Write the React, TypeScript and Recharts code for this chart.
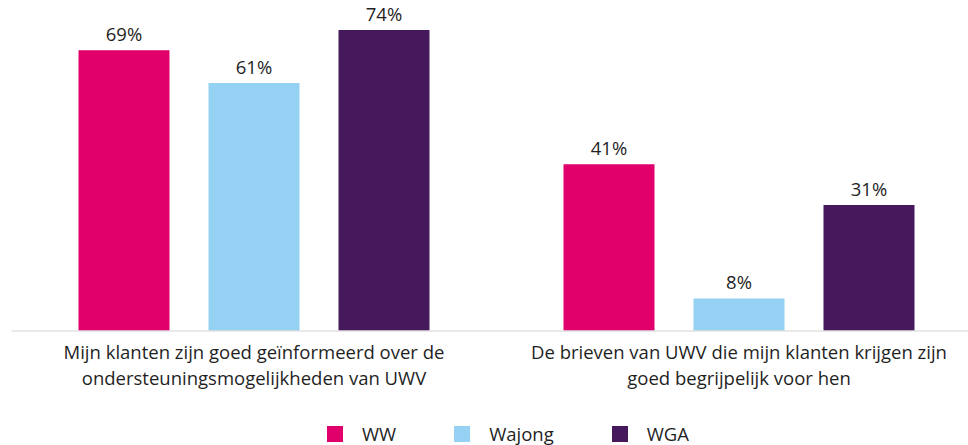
import { BarChart, Bar, XAxis, YAxis, Legend, LabelList } from 'recharts';

// category labels, already split over two lines like the original
const categories = [
  ['Mijn klanten zijn goed geïnformeerd over de', 'ondersteuningsmogelijkheden van UWV'],
  ['De brieven van UWV die mijn klanten krijgen zijn', 'goed begrijpelijk voor hen'],
];
const seriesNames = ['WW', 'Wajong', 'WGA'];
const ww = [69, 41];
const wajong = [61, 8];
const wga = [74, 31];

const colors = ['#e1006b', '#94d1f2', '#46195d'];
const textColor = '#1f1f1f';
const font = '"Open Sans", sans-serif';
const fontSize = 18.5;

const chartData = categories.map((lines, i) => ({
  name: lines.join(' '),
  WW: ww[i],
  Wajong: wajong[i],
  WGA: wga[i],
}));

function CategoryTick({ x, y, index }: any) {
  const lines = categories[index] || [];
  return (
    <text x={x} y={y} textAnchor="middle" fill={textColor} fontSize={fontSize} fontFamily={font}>
      {lines.map((line, i) => (
        <tspan key={i} x={x} dy={i === 0 ? 28 : 26}>
          {line}
        </tspan>
      ))}
    </text>
  );
}

// own legend so the order stays WW, Wajong, WGA
function LegendContent() {
  return (
    <div style={{ height: 54, display: 'flex', alignItems: 'center', paddingLeft: 327, paddingTop: 32, boxSizing: 'border-box' }}>
      {seriesNames.map((s, i) => (
        <div key={s} style={{ display: 'flex', alignItems: 'center', marginRight: 58 }}>
          <span style={{ width: 16, height: 16, background: colors[i], display: 'inline-block', marginRight: 19 }} />
          <span style={{ fontSize, color: textColor, fontFamily: font, lineHeight: '22px' }}>{s}</span>
        </div>
      ))}
    </div>
  );
}

export default function App() {
  return (
    <div style={{ position: 'absolute', left: 0, top: 0, width: 968, height: 445, overflow: 'hidden', background: '#fff', fontFamily: font }}>
      <BarChart
        width={990}
        height={445}
        data={chartData}
        margin={{ top: 30, right: 8.5, left: 11.5, bottom: 0 }}
        barSize={91}
        barGap={39}
      >
        <XAxis
          dataKey="name"
          height={60}
          tickLine={false}
          tickSize={0}
          tickMargin={0}
          axisLine={{ stroke: '#e2e2e2', strokeWidth: 1.5 }}
          tick={<CategoryTick />}
          interval={0}
        />
        <YAxis hide domain={[0, 'dataMax']} />
        <Legend
          verticalAlign="bottom"
          height={54}
          content={<LegendContent />}
          wrapperStyle={{ left: 0, width: 968 }}
        />
        {seriesNames.map((s, i) => (
          <Bar key={s} dataKey={s} name={s} fill={colors[i]} isAnimationActive={false}>
            <LabelList
              dataKey={s}
              position="top"
              offset={9}
              formatter={(v: any) => `${v}%`}
              fill={textColor}
              fontSize={fontSize}
              fontFamily={font}
            />
          </Bar>
        ))}
      </BarChart>
    </div>
  );
}
